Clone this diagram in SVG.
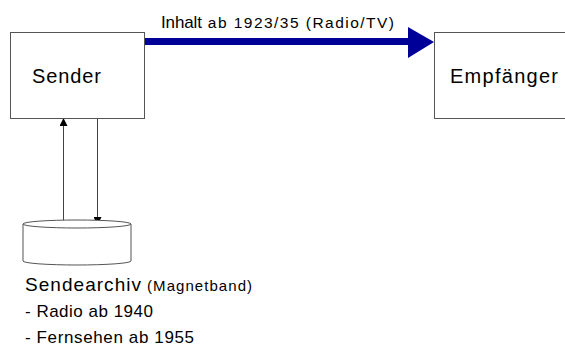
<svg xmlns="http://www.w3.org/2000/svg" width="565" height="347" viewBox="0 0 565 347">
<defs>
<style>
.box{fill:#fff;stroke:#555;stroke-width:1}
.t{font-family:"Liberation Sans",Arial,sans-serif;fill:#000}
.thin{stroke:#444;stroke-width:1;fill:none}
</style>
<marker id="ah" viewBox="0 0 8 8" refX="8" refY="4" markerWidth="8" markerHeight="8" markerUnits="userSpaceOnUse" orient="auto">
<path d="M0,0 L8,4 L0,8 Z" fill="#000"/>
</marker>
</defs>
<rect width="565" height="347" fill="#fff"/>
<g id="connectors">
<line x1="144" y1="41.5" x2="410" y2="41.5" stroke="#000099" stroke-width="7"/>
<polygon points="408,27 434,42 408,58" fill="#000099"/>
<line class="thin" x1="63.5" y1="225" x2="63.5" y2="118" marker-end="url(#ah)"/>
<line class="thin" x1="97.5" y1="118" x2="97.5" y2="225" marker-end="url(#ah)"/>
<text class="t" x="161" y="28"><tspan font-size="17" textLength="41">Inhalt</tspan><tspan font-size="15.5" dx="6" textLength="186">ab 1923/35 (Radio/TV)</tspan></text>
</g>
<g id="sender">
<rect class="box" x="10.5" y="32.5" width="134" height="86"/>
<text class="t" x="32" y="83" font-size="20" textLength="69">Sender</text>
</g>
<g id="empfaenger">
<rect class="box" x="434.5" y="32.5" width="140" height="86"/>
<text class="t" x="450" y="83" font-size="20" textLength="108">Empfänger</text>
</g>
<g id="sendearchiv">
<path class="box" d="M23,224 L23,261 A54,4 0 0 0 131,261 L131,224"/>
<ellipse class="box" cx="77" cy="224" rx="54" ry="4"/>
<text class="t" x="25" y="291"><tspan font-size="19" textLength="116">Sendearchiv</tspan><tspan font-size="15" dx="5" textLength="105">(Magnetband)</tspan></text>
<text class="t" x="25" y="317" font-size="17" textLength="128">- Radio ab 1940</text>
<text class="t" x="25" y="343" font-size="17" textLength="169">- Fernsehen ab 1955</text>
</g>
</svg>
